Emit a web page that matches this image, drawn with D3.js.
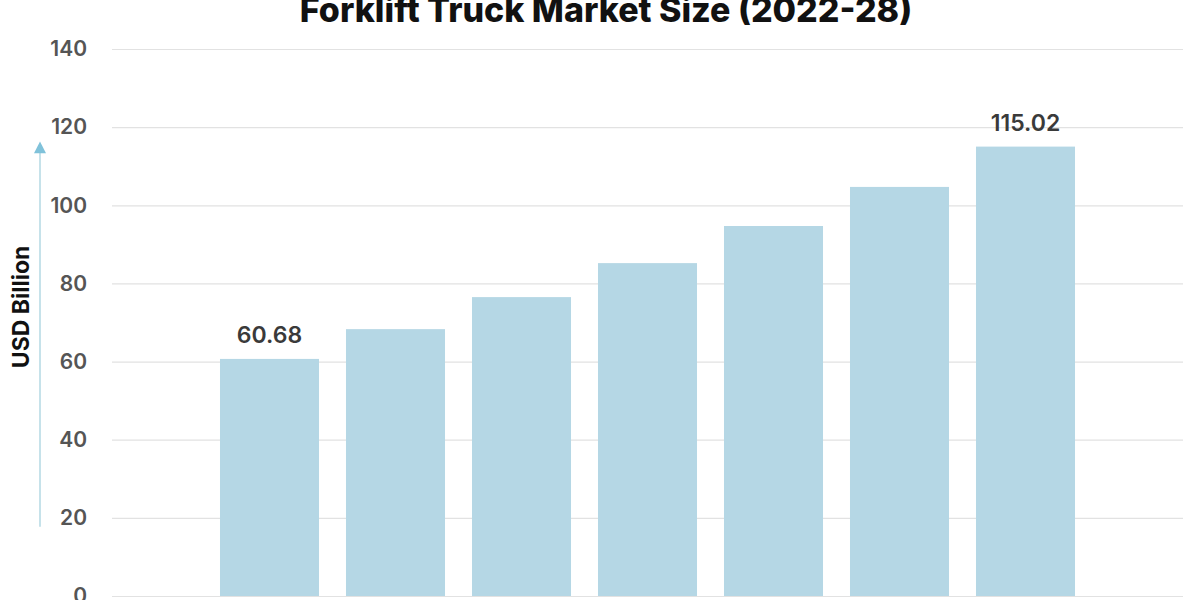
<!DOCTYPE html>
<html>
<head>
<meta charset="utf-8">
<script src="https://cdn.jsdelivr.net/npm/d3@7"></script>
<style>
  html, body { margin: 0; padding: 0; background: #fff; }
  svg { display: block; font-family: Inter, "Open Sans", sans-serif; }
</style>
</head>
<body>
<svg id="chart" width="1200" height="600"></svg>
<script>
// Data
const years = ['2022', '2023', '2024', '2025', '2026', '2027', '2028'];
const marketSize = [60.68, 68.3, 76.5, 85.2, 94.7, 104.7, 115.02];
const labelled = ['2022', '2028'];
const yTicks = [0, 20, 40, 60, 80, 100, 120, 140];

const W = 1200, H = 600;
const margin = { top: 49, right: 17, bottom: 4, left: 112 };

const svg = d3.select('#chart');

const x = d3.scaleBand()
  .domain(years)
  .range([margin.left, W - margin.right])
  .paddingInner(0.214)
  .paddingOuter(0.857);

const y = d3.scaleLinear()
  .domain([0, 140])
  .range([H - margin.bottom, margin.top]);

// Grid
svg.append('g')
  .attr('transform', `translate(${margin.left},0)`)
  .call(d3.axisLeft(y).tickValues(yTicks).tickSize(-(W - margin.left - margin.right)).tickFormat(''))
  .call(ax => ax.select('.domain').remove())
  .call(ax => ax.selectAll('line').attr('stroke', '#e2e2e2').attr('stroke-width', 1.2));

// Tick labels
svg.append('g')
  .attr('transform', 'translate(87,0)')
  .call(d3.axisLeft(y).tickValues(yTicks).tickSize(0).tickPadding(0))
  .call(ax => ax.select('.domain').remove())
  .call(ax => ax.selectAll('text')
    .attr('fill', '#555').attr('font-size', 21).attr('font-weight', 600)
    .attr('font-family', 'Inter, sans-serif'));

// Bars
svg.append('g').selectAll('rect')
  .data(years)
  .join('rect')
  .attr('x', d => x(d))
  .attr('y', (d, i) => y(marketSize[i]))
  .attr('width', x.bandwidth())
  .attr('height', (d, i) => y(0) - y(marketSize[i]))
  .attr('fill', '#b5d7e5');

// Value labels on first and last bar
svg.append('g').selectAll('text')
  .data(years.filter(d => labelled.includes(d)))
  .join('text')
  .attr('x', d => x(d) + x.bandwidth() / 2)
  .attr('y', d => y(marketSize[years.indexOf(d)]) - 16)
  .attr('text-anchor', 'middle')
  .attr('fill', '#3a3a3a').attr('font-size', 23).attr('font-weight', 600)
  .text(d => marketSize[years.indexOf(d)].toFixed(2));

// Y axis title with arrow
svg.append('line')
  .attr('x1', 40).attr('x2', 40)
  .attr('y1', y(17.7)).attr('y2', y(115.5))
  .attr('stroke', '#c6e2ea').attr('stroke-width', 2);

svg.append('path')
  .attr('d', `M34,${y(113.3)} L40,${y(116.3)} L46,${y(113.3)} Z`)
  .attr('fill', '#80c2da');

svg.append('text')
  .attr('transform', `translate(29,${y(74)}) rotate(-90)`)
  .attr('text-anchor', 'middle')
  .attr('fill', '#111').attr('font-size', 23).attr('font-weight', 700)
  .text('USD Billion');

// Title (cut off at top, as in the reference)
svg.append('text')
  .attr('x', 606).attr('y', 22)
  .attr('text-anchor', 'middle')
  .attr('fill', '#111').attr('font-size', 34).attr('font-weight', 800)
  .text('Forklift Truck Market Size (2022-28)');
</script>
</body>
</html>
